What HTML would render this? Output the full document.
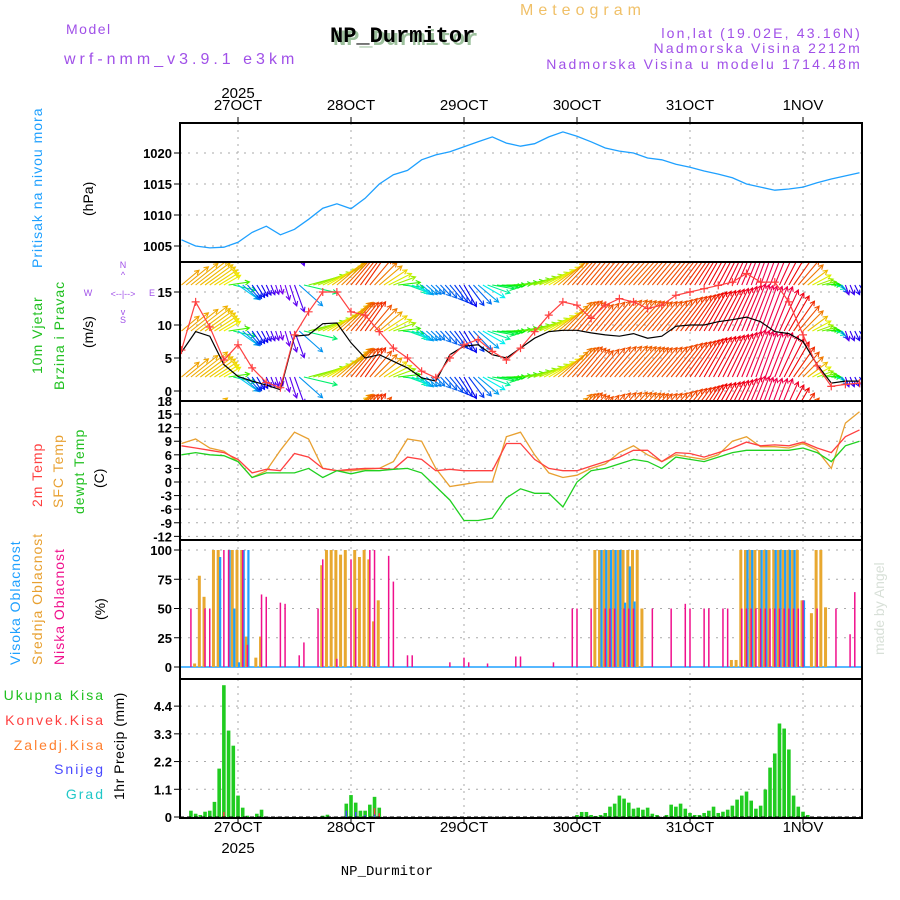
<!DOCTYPE html>
<html><head><meta charset="utf-8"><style>
body{margin:0;background:#fff;}
svg{display:block;font-family:"Liberation Sans",sans-serif;}
</style></head><body>
<svg id="chart" width="900" height="900" viewBox="0 0 900 900" xmlns="http://www.w3.org/2000/svg">
<defs>
<clipPath id="c1"><rect x="180" y="123" width="682" height="139"/></clipPath>
<clipPath id="c2"><rect x="180" y="262" width="682" height="139"/></clipPath>
<clipPath id="c3"><rect x="180" y="401" width="682" height="139"/></clipPath>
<clipPath id="c4"><rect x="180" y="540" width="682" height="139"/></clipPath>
<clipPath id="c5"><rect x="180" y="679" width="682" height="139"/></clipPath>
</defs>
<text x="520" y="15" font-size="16" fill="#f0c068" letter-spacing="5">Meteogram</text>
<text x="66" y="34" font-size="14" fill="#a050e8" letter-spacing="1.5">Model</text>
<text x="64" y="64" font-size="16" fill="#a050e8" letter-spacing="4">wrf-nmm_v3.9.1 e3km</text>
<text x="333" y="45" font-size="22" font-weight="bold" fill="#9cc09c" font-family="Liberation Mono, monospace">NP_Durmitor</text>
<text x="330" y="42" font-size="22" font-weight="bold" fill="#000" font-family="Liberation Mono, monospace">NP_Durmitor</text>
<text x="862" y="38" font-size="14" fill="#a050e8" text-anchor="end" letter-spacing="2.2">lon,lat (19.02E, 43.16N)</text>
<text x="862" y="53" font-size="14" fill="#a050e8" text-anchor="end" letter-spacing="2.2">Nadmorska Visina 2212m</text>
<text x="862" y="69" font-size="14" fill="#a050e8" text-anchor="end" letter-spacing="2.2">Nadmorska Visina u modelu 1714.48m</text>
<text x="238" y="98" font-size="15" text-anchor="middle">2025</text>
<text x="238" y="853" font-size="15" text-anchor="middle">2025</text>
<text x="387" y="875" font-size="14" text-anchor="middle" font-family="Liberation Mono, monospace">NP_Durmitor</text>
<text transform="translate(884,655) rotate(-90)" font-size="14" fill="#d8e0d8">made by Angel</text>
<g>
<text transform="translate(42,268) rotate(-90)" font-size="14" fill="#1ea0ff" letter-spacing="1">Pritisak na nivou mora</text>
<text transform="translate(93,216) rotate(-90)" font-size="14" fill="#000">(hPa)</text>
</g>
<g>
<text transform="translate(42,374) rotate(-90)" font-size="14" fill="#20c020" letter-spacing="1">10m Vjetar</text>
<text transform="translate(64,390) rotate(-90)" font-size="14" fill="#20c020" letter-spacing="1">Brzina i Pravac</text>
<text transform="translate(93,348) rotate(-90)" font-size="14" fill="#000">(m/s)</text>
<g fill="#a050e8" font-size="9" text-anchor="middle">
<text x="123" y="268">N</text><text x="123" y="278">^</text><text x="123" y="323">S</text><text x="123" y="315">v</text>
<text x="88" y="296">W</text><text x="152" y="296">E</text><text x="123" y="297">&lt;--|--&gt;</text>
</g>
</g>
<g>
<text transform="translate(42,507) rotate(-90)" font-size="14" fill="#ff4040" letter-spacing="1">2m Temp</text>
<text transform="translate(63,508) rotate(-90)" font-size="14" fill="#e8a030" letter-spacing="1">SFC Temp</text>
<text transform="translate(84,514) rotate(-90)" font-size="14" fill="#20c020" letter-spacing="1">dewpt Temp</text>
<text transform="translate(104,488) rotate(-90)" font-size="14" fill="#000">(C)</text>
</g>
<g>
<text transform="translate(20,665) rotate(-90)" font-size="14" fill="#1ea0ff" letter-spacing="1">Visoka Oblacnost</text>
<text transform="translate(42,665) rotate(-90)" font-size="14" fill="#e8a030" letter-spacing="1">Srednja Oblacnost</text>
<text transform="translate(64,665) rotate(-90)" font-size="14" fill="#f0108c" letter-spacing="1">Niska Oblacnost</text>
<text transform="translate(105,620) rotate(-90)" font-size="14" fill="#000">(%)</text>
</g>
<g font-size="14" text-anchor="end" letter-spacing="2">
<text x="105" y="700" fill="#20c020">Ukupna Kisa</text>
<text x="105" y="725" fill="#ff4040">Konvek.Kisa</text>
<text x="105" y="750" fill="#ff8030">Zaledj.Kisa</text>
<text x="105" y="774" fill="#4848ff">Snijeg</text>
<text x="105" y="799" fill="#20c8c8">Grad</text>
<text transform="translate(124,800) rotate(-90)" fill="#000" text-anchor="start" letter-spacing="0.5">1hr Precip (mm)</text>
</g>
<g id="grid"></g>
<g id="marks"></g>
<g id="frames"></g>
</svg>
<script>
const hours3 = [12,15,18,21,24,27,30,33,36,39,42,45,48,51,54,57,60,63,66,69,72,75,78,81,84,87,90,93,96,99,102,105,108,111,114,117,120,123,126,129,132,135,138,141,144,147,150,153,156];
const pressure = [1006.0,1005.0,1004.7,1004.8,1005.6,1007.2,1008.2,1006.8,1007.7,1009.3,1011.1,1011.8,1011.0,1012.7,1015.0,1016.5,1017.2,1018.9,1019.7,1020.2,1021.0,1021.8,1022.6,1021.6,1021.1,1021.5,1022.6,1023.4,1022.7,1021.8,1020.8,1020.3,1020.0,1019.2,1018.9,1018.2,1017.7,1017.1,1016.6,1016.0,1015.0,1014.5,1014.0,1014.2,1014.5,1015.2,1015.8,1016.3,1016.8];
const windSpeed = [6.2,13.5,9.7,4.7,7.0,3.5,1.3,0.5,8.5,12.0,15.0,15.0,12.0,11.5,9.0,6.5,5.0,3.0,2.0,5.0,7.0,7.8,6.0,4.7,6.5,9.0,11.5,13.5,13.0,11.0,13.0,14.0,13.5,12.5,13.0,14.5,15.0,15.5,16.0,16.5,17.8,16.5,16.5,13.5,8.5,3.8,0.7,1.0,1.2];
const windOther = [5.9,9.0,8.3,4.0,2.2,1.5,0.9,0.2,8.3,8.5,10.2,10.3,7.3,5.0,5.5,4.5,3.5,2.0,1.5,5.5,6.8,7.0,5.5,5.0,6.5,8.0,9.0,9.2,9.2,8.8,8.5,8.3,8.7,8.0,8.3,9.8,10.0,10.0,10.5,10.8,11.2,10.5,9.0,8.7,7.5,4.0,1.2,1.5,1.5];
const windAngle = [40,38,35,30,-35,-55,-65,-75,-70,15,25,40,50,55,40,20,-20,-40,-45,-50,-60,-40,-10,0,10,20,30,45,50,50,50,48,48,50,50,52,55,60,62,65,68,70,68,60,45,20,0,-70,-60];
const temp2m = [8.0,7.5,7.0,6.5,5.0,2.0,2.8,2.5,6.3,5.5,3.0,2.5,2.8,3.0,3.0,2.8,5.5,5.0,2.5,2.8,2.5,2.5,2.5,8.5,8.5,5.0,3.0,2.5,2.5,3.5,4.5,5.5,7.0,7.0,4.5,6.5,6.3,5.5,6.5,7.5,8.8,8.0,8.2,8.0,8.8,7.5,6.5,10.0,11.5];
const tempSfc = [8.5,9.5,7.5,6.8,4.5,1.0,2.5,7.0,11.0,9.5,3.0,2.5,2.5,2.8,3.0,4.5,9.5,9.0,3.0,-1.0,-0.5,0,0,10.0,11.0,6.0,2.0,1.0,1.5,3.0,4.0,6.5,8.0,6.0,4.5,6.0,5.5,5.0,6.0,9.0,10.0,7.8,7.8,7.5,8.5,7.0,3.0,13.0,15.5];
const tempDew = [6.0,6.5,6.0,5.8,4.5,1.0,2.0,2.0,2.0,3.0,1.0,2.5,1.8,2.5,2.5,2.8,3.0,2.0,-1.0,-4.0,-8.5,-8.5,-8.0,-3.5,-1.5,-2.5,-2.5,-5.5,0,2.5,3.0,4.0,5.0,4.5,3.0,5.5,5.0,4.5,5.5,6.5,7.0,7.0,7.0,7.0,7.5,6.5,4.5,8.0,9.0];
const cloudLowHours = [14,17,18,21,22,25,26,29,30,33,34,37,38,41,42,45,48,49,52,53,56,57,60,61,69,72,73,77,83,84,91,95,96,99,102,103,104,106,107,108,112,116,119,120,123,124,127,128,131,132,133,134,135,136,137,138,139,140,141,142,143,144,147,151,154,155];
const cloudLowVals = [50,50,50,100,100,100,19,62,60,55,54,10,21,50,92,7,92,50,100,100,95,73,10,10,4,8,4,3,9,9,4,50,50,50,50,50,50,50,50,50,50,50,54,50,50,50,50,50,50,50,50,50,50,50,50,50,50,50,50,50,50,57,50,50,28,64];
const cloudMidHours = [15,16,17,19,20,23,24,25,26,28,29,42,43,44,45,46,47,49,50,51,52,53,54,100,101,102,103,104,105,106,107,108,109,110,129,130,131,132,133,134,135,136,137,138,139,140,141,142,143,144,146,147,148,149];
const cloudMidVals = [3,78,60,100,100,100,100,100,26,8,26,87,100,100,100,96,100,100,94,100,92,39,57,100,100,100,100,100,100,100,100,100,100,50,6,6,100,100,100,100,100,100,100,100,100,100,100,100,100,57,46,100,100,51];
const cloudHighHours = [20,22,23,24,25,26,101,102,103,104,105,106,107,108,132,133,135,136,138,139,140,141,142,144];
const cloudHighVals = [94,100,50,4,100,100,100,100,100,100,100,55,86,56,100,100,100,100,100,100,100,100,100,57];
const precipHours = [14,15,16,17,18,19,20,21,22,23,24,25,26,28,29,42,43,47,48,49,50,51,52,53,54,96,97,98,99,100,101,102,103,104,105,106,107,108,109,110,111,112,113,115,116,117,118,119,120,121,122,123,124,125,126,127,128,129,130,131,132,133,134,135,136,137,138,139,140,141,142,143,144,145];
const precipVals = [0.25,0.13,0.08,0.21,0.25,0.6,1.92,5.23,3.43,2.83,0.85,0.37,0.05,0.13,0.29,0.05,0.09,0.53,0.87,0.57,0.25,0.25,0.49,0.8,0.37,0.08,0.2,0.2,0.08,0.04,0.08,0.16,0.41,0.53,0.85,0.73,0.57,0.33,0.37,0.29,0.37,0.13,0.08,0.08,0.49,0.41,0.53,0.33,0.16,0.08,0.08,0.16,0.25,0.41,0.16,0.21,0.29,0.45,0.69,0.85,1.01,0.65,0.33,0.45,1.09,1.96,2.52,3.71,3.51,2.68,0.85,0.41,0.21,0.08];
const convHours = [21,47,49,53,54];
const convVals = [0.2,0.0,0.0,0.35,0.15];
const snowHours = [47,49,51,53];
const snowVals = [0.25,0.2,0.08,0.1];
const dayLabels = ['27OCT','28OCT','29OCT','30OCT','31OCT','1NOV'];
const dayHours = [24,48,72,96,120,144];
const pTicks = [1005,1010,1015,1020];
const wTicks = [0,5,10,15];
const tTicks = [-12,-9,-6,-3,0,3,6,9,12,15];
const cTicks = [0,25,50,75,100];
const rTicks = [0,1.1,2.2,3.3,4.4];

const NS='http://www.w3.org/2000/svg';
const X0=180,X1=862;
const xS=h=>238+(h-24)*113/24;
const pY=v=>153+(1020-v)*6.2;
const wY=v=>391-v*6.6;
const tY=v=>482-v*4.53;
const cY=v=>667-v*1.17;
const rY=v=>817-v*25.2;
function el(tag,attrs,parent){const e=document.createElementNS(NS,tag);for(const k in attrs)e.setAttribute(k,attrs[k]);parent.appendChild(e);return e;}
const grid=document.getElementById('grid'),marks=document.getElementById('marks'),frames=document.getElementById('frames');
const panels=[[123,262,pY,pTicks,'pressure','c1'],[262,401,wY,wTicks,'wind','c2'],[401,540,tY,tTicks,'temp','c3'],[540,679,cY,cTicks,'cloud','c4'],[679,818,rY,rTicks,'precip','c5']];
panels.forEach(([top,bot,ys,ticks,nm])=>{
  dayHours.forEach(h=>{const l=el('line',{x1:xS(h),x2:xS(h),y1:top,y2:bot,stroke:'#aaa','stroke-dasharray':'2,5'},grid);
    
    });
  ticks.forEach(v=>{const y=ys(v);
    const g=el('line',{x1:X0,x2:X1,y1:y,y2:y,stroke:'#aaa','stroke-dasharray':'2,6'},grid);
    
    
    el('line',{x1:X0-6,x2:X0,y1:y,y2:y,stroke:'#000'},frames);
    const t=el('text',{x:X0-8,y:y+5,'font-size':13,'text-anchor':'end','font-weight':'bold'},frames);
    
    
    t.textContent=String(v);});
  const r=el('rect',{x:X0,y:top,width:X1-X0,height:bot-top,fill:'none',stroke:'#000','stroke-width':2},frames);
  
  
});
{const t=el('text',{x:X0-8,y:406,'font-size':13,'text-anchor':'end','font-weight':'bold'},frames);


t.textContent='18';}
dayHours.forEach((h,i)=>{
  [[110,123,117],[832,818,824]].forEach(([ty,a,b])=>{
    el('line',{x1:xS(h),x2:xS(h),y1:a,y2:b,stroke:'#000'},frames);
    const t=el('text',{x:xS(h),y:ty,'font-size':15,'text-anchor':'middle'},frames);
    
    
    t.textContent=dayLabels[i];});
});
function line(vals,ys,color,clip,name,w){
  const d=vals.map((v,i)=>(i?'L':'M')+xS(hours3[i]).toFixed(1)+','+ys(v).toFixed(1)).join('');
  const p=el('path',{d:d,fill:'none',stroke:color,'stroke-width':w||1.3,'clip-path':'url(#'+clip+')'},marks);
  
  
}
line(pressure,pY,'#1ea0ff','c1','pressure-line');
function hue(a){return a>=0?((120-a*2)+360)%360:120-a*2;}
const arrowG=el('g',{'clip-path':'url(#c2)'},marks);


const bases=[239,285,331,377,423];
for(let i=0;i<hours3.length;i++){
  for(let s=0;s<3;s++){
    if(i===hours3.length-1&&s>0)break;
    const f=s/3,j=Math.min(i+1,hours3.length-1);
    const h=hours3[i]+(hours3[j]-hours3[i])*f;
    const a=windAngle[i]+(windAngle[j]-windAngle[i])*f;
    const sp=windSpeed[i]+(windSpeed[j]-windSpeed[i])*f;
    const L=8+sp*2.4,r=a*Math.PI/180,col='hsl('+hue(a)+',100%,47%)';
    bases.forEach(b=>{
      const x=xS(h),x2=x+L*Math.cos(r),y2=b-L*Math.sin(r);
      const ar=el('path',{d:'M'+x+','+b+'L'+x2+','+y2+'M'+(x2-5*Math.cos(r-0.5))+','+(y2+5*Math.sin(r-0.5))+'L'+x2+','+y2+'L'+(x2-5*Math.cos(r+0.5))+','+(y2+5*Math.sin(r+0.5)),stroke:col,'stroke-width':1.1,fill:'none'},arrowG);
      
      
    });
  }
}
line(windOther,wY,'#000','c2','wind-black-line',1.2);
line(windSpeed,wY,'#ff4040','c2','wind-speed-line',1.2);
windSpeed.forEach((v,i)=>{const x=xS(hours3[i]),y=wY(v);
  const m=el('path',{d:'M'+(x-4)+','+y+'h8M'+x+','+(y-4)+'v8',stroke:'#ff4040','stroke-width':1.2,'clip-path':'url(#c2)'},marks);
  
  });
line(tempSfc,tY,'#e8a030','c3','sfc-temp-line');
line(temp2m,tY,'#ff4040','c3','temp-2m-line');
line(tempDew,tY,'#20d020','c3','dewpoint-line');
function bars(hrs,vals,ys,color,w,off,name,clip,baseV){
  hrs.forEach((h,i)=>{const x=xS(h)+off,y=ys(vals[i]),y0=ys(baseV);
    const b=el('rect',{x:x-w/2,y:Math.min(y,y0),width:w,height:Math.abs(y0-y),fill:color,'clip-path':'url(#'+clip+')'},marks);
    
    });
}
el('line',{x1:X0,x2:X1,y1:cY(0),y2:cY(0),stroke:'#1ea0ff','stroke-width':1.5},marks);
bars(cloudMidHours,cloudMidVals,cY,'#e8a830',3,-1,'cloud-mid-bar','c4',0);
bars(cloudHighHours,cloudHighVals,cY,'#1ea0ff',2.2,1,'cloud-high-bar','c4',0);
bars(cloudLowHours,cloudLowVals,cY,'#f0108c',1.5,0,'cloud-low-bar','c4',0);
bars(precipHours,precipVals,rY,'#20cc20',3.6,0,'precip-bar','c5',0);
bars(convHours,convVals,rY,'#ff4040',1.5,0,'convective-bar','c5',0);
bars(snowHours,snowVals,rY,'#4848ff',1.5,0,'snow-bar','c5',0);
el('line',{x1:X0,x2:X1,y1:817,y2:817,stroke:'#000','stroke-dasharray':'4,3'},marks);
</script>
</body></html>
